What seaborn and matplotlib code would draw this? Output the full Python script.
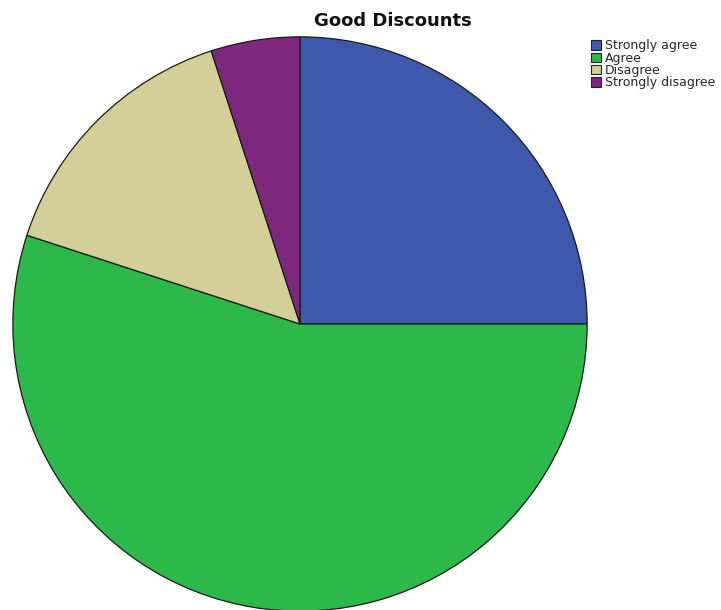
import matplotlib
matplotlib.use("Agg")
import matplotlib.pyplot as plt
import seaborn as sns

sns.set_theme(style="white")
plt.rcParams['font.family'] = ['DejaVu Sans']

categories = ["Strongly agree", "Agree", "Disagree", "Strongly disagree"]
percentages = [25, 55, 15, 5]
colors = sns.color_palette(["#3E58AC", "#2DB84A", "#D4CE98", "#7D287D"])

fig = plt.figure(figsize=(7.21, 6.10), dpi=100)
W, H = 721, 610
cx, cy, r = 300, 324, 288
ax = fig.add_axes([(cx - r) / W, (H - cy - r) / H, 2 * r / W, 2 * r / H])

wedges, _ = ax.pie(
    percentages,
    colors=colors,
    startangle=90,
    counterclock=False,
    radius=1,
    wedgeprops=dict(edgecolor="#1a1a1a", linewidth=0.9),
)
ax.set_xlim(-1.003, 1.003)
ax.set_ylim(-1.003, 1.003)
ax.set_aspect("equal")
ax.axis("off")

fig.text(393 / W, 1 - 21 / H, "Good Discounts", ha="center", va="center",
         fontsize=13, fontweight="bold", color="#111111")

leg = fig.legend(
    wedges, categories,
    loc="upper left",
    bbox_to_anchor=(588 / W, 1 - 37 / H),
    frameon=False,
    fontsize=9.0,
    handlelength=0.8,
    handleheight=0.8,
    handletextpad=0.35,
    labelspacing=-0.06,
    borderaxespad=0,
    borderpad=0.2,
)
for h in leg.legend_handles:
    h.set_edgecolor("#222222")
    h.set_linewidth(0.8)

fig.savefig("out.png", dpi=100)
